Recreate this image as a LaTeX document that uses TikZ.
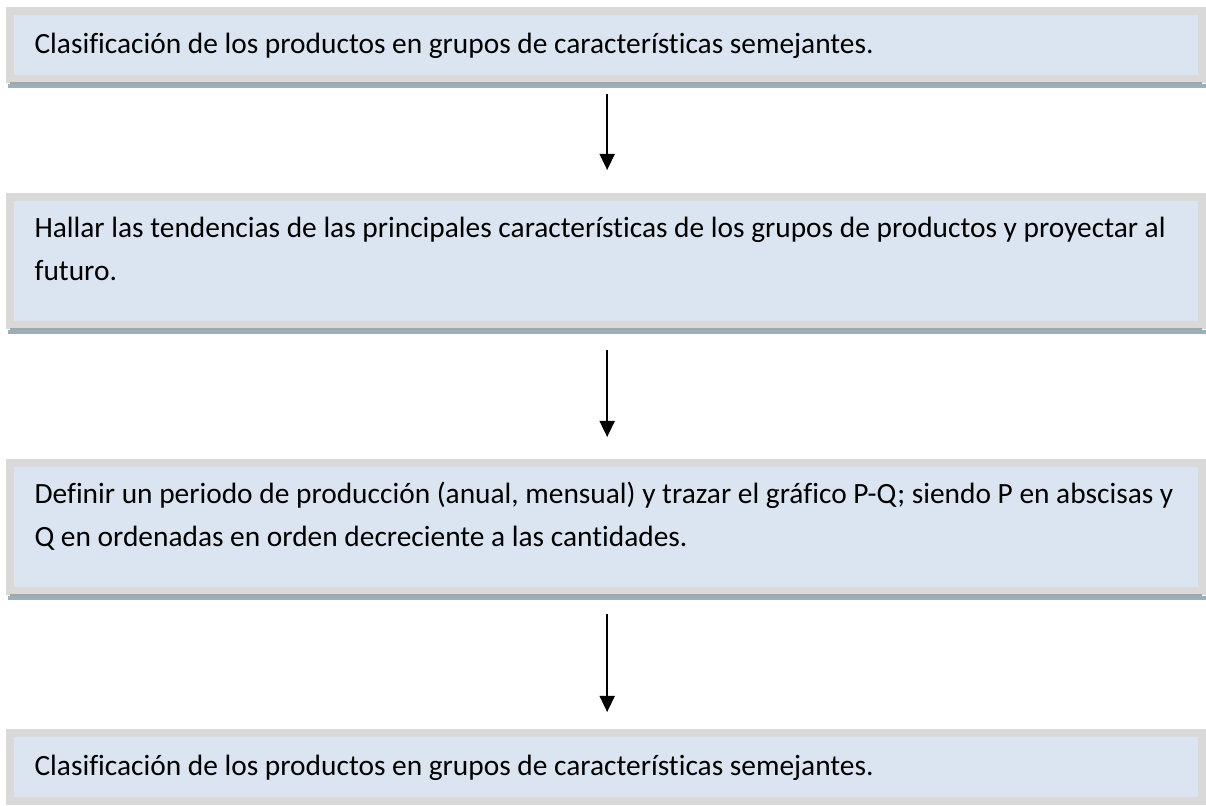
\documentclass[tikz,border=0pt]{standalone}
\usepackage{fontspec}
\setmainfont[Ligatures=NoCommon]{Carlito}
\usepackage{tikz}
\usetikzlibrary{arrows.meta}
\tikzset{>={Triangle[width=5.3pt,length=5.7pt]}}
\definecolor{myblue}{HTML}{DBE5F1}
\definecolor{mygray}{HTML}{D9D9D9}
\definecolor{mygray2}{HTML}{A6A6A6}
\definecolor{mystripe}{HTML}{9AB0BA}
\begin{document}
\begin{tikzpicture}[x=0.0125cm, y=-0.0125cm,
box/.style={draw=mygray, fill=myblue, line width=2.85pt, minimum width=14.9cm, inner sep=0pt, outer sep=0pt, anchor=north west},
txt/.style={anchor=base west, align=left, inner sep=0pt, font=\fontsize{10.45}{15.2}\selectfont}]
\useasboundingbox (0,0) rectangle (1206,805);
\node[box, minimum height=0.85cm] (box1) at (10,11) {};
\node[box, minimum height=1.6cm] (box2) at (10,197) {};
\node[box, minimum height=1.6cm] (box3) at (10,463) {};
\node[box, minimum height=0.85cm] (box4) at (10,733) {};
\foreach \i in {1,2,3}{
\draw[mygray2, line width=0.4pt] ([yshift=-0.05cm]box\i.south west) -- ([yshift=-0.05cm]box\i.south east);
\draw[mystripe, line width=1.4pt] ([xshift=-0.025cm, yshift=-0.0875cm]box\i.south west) -- ([xshift=0.05cm, yshift=-0.0875cm]box\i.south east);
}
% multi-line texts are placed by their last baseline
\node[txt] (t1) at (34,53) {Clasificación de los productos en grupos de características semejantes.};
\node[txt] (t2) at (34,280) {Hallar las tendencias de las principales características de los grupos de productos y proyectar al\\futuro.};
\node[txt] (t3) at (34,546) {Definir un periodo de producción (anual, mensual) y trazar el gráfico P-Q; siendo P en abscisas y\\Q en ordenadas en orden decreciente a las cantidades.};
\node[txt] (t4) at (34,775) {Clasificación de los productos en grupos de características semejantes.};
\foreach \a/\b/\s/\e in {1/2/0.1875/0.3375, 2/3/0.3125/0.325, 3/4/0.2875/0.2625}{
\draw[->, line width=0.7pt, shorten <=\s cm, shorten >=\e cm] ([xshift=0.0125cm]box\a.south) -- ([xshift=0.0125cm]box\b.north);
}
\end{tikzpicture}
\end{document}
